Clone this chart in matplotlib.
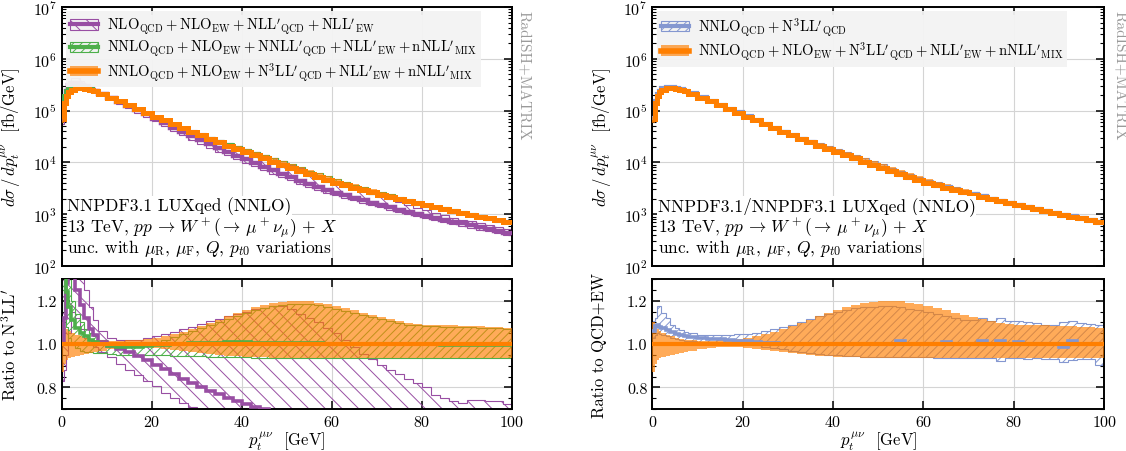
import numpy as np
import matplotlib.pyplot as plt
from matplotlib.patches import Patch
from matplotlib.lines import Line2D
from matplotlib.ticker import MultipleLocator, LogLocator, NullFormatter, FixedLocator

plt.rcParams.update({
    'font.family': 'serif',
    'font.serif': ['cmr10'],
    'mathtext.fontset': 'cm',
    'axes.formatter.use_mathtext': True,
    'font.size': 12,
    'hatch.linewidth': 0.7,
})

# bin edges in p_t [GeV]
edges = np.concatenate([[0, 0.5, 1, 1.5, 2, 3, 4, 5, 6, 7], np.arange(8, 101, 2)])

# QCD+EW N3LL' central spectrum [fb/GeV]
spec_n3ll = [67600, 141000, 190500, 224000, 251000, 269000, 269000, 263000, 251000, 234000,
             209000, 178000, 150000, 126000, 107000, 91200, 76700, 64600, 54300, 45700,
             38900, 33100, 28500, 24500, 21100, 18200, 15800, 13800, 11900, 10200,
             8900, 7760, 6760, 5890, 5190, 4570, 4070, 3630, 3270, 2950,
             2660, 2400, 2190, 1970, 1780, 1620, 1480, 1360, 1260, 1160,
             1070, 977, 902, 832, 767, 708]

# ratios to the N3LL' (QCD+EW) central value
n3ll_hi = [1.10, 1.08, 1.07, 1.06, 1.05, 1.04, 1.035, 1.03, 1.025, 1.02,
           1.018, 1.015, 1.015, 1.017, 1.02, 1.023, 1.028, 1.035, 1.045, 1.057,
           1.07, 1.084, 1.098, 1.113, 1.128, 1.143, 1.157, 1.17, 1.182, 1.19,
           1.196, 1.2, 1.2, 1.197, 1.19, 1.183, 1.175, 1.165, 1.155, 1.145,
           1.134, 1.124, 1.114, 1.105, 1.098, 1.093, 1.09, 1.088, 1.087, 1.086,
           1.085, 1.083, 1.082, 1.08, 1.078, 1.076]
n3ll_lo = [0.87, 0.91, 0.925, 0.935, 0.94, 0.945, 0.95, 0.955, 0.96, 0.965,
           0.97, 0.975, 0.98, 0.985, 0.987, 0.984, 0.98, 0.976, 0.971, 0.966,
           0.961, 0.957, 0.953, 0.949, 0.946, 0.943, 0.941, 0.939, 0.938, 0.937,
           0.936, 0.935, 0.935, 0.934, 0.934, 0.934, 0.934, 0.934, 0.934, 0.934,
           0.934, 0.934, 0.934, 0.934, 0.934, 0.934, 0.935, 0.935, 0.935, 0.935,
           0.935, 0.935, 0.935, 0.935, 0.935, 0.935]

nnll_c = [1.45, 1.35, 1.24, 1.17, 1.11, 1.075, 1.05, 1.035, 1.02, 1.01,
          1.0, 0.99, 0.985, 0.985, 0.987, 0.99, 0.994, 0.997, 1.0, 1.002,
          1.004, 1.005, 1.006, 1.006, 1.007, 1.007, 1.007, 1.006, 1.006, 1.005,
          1.005, 1.004, 1.004, 1.003, 1.003, 1.002, 1.002, 1.001, 1.001, 1.0,
          1.0, 1.0, 0.999, 0.999, 0.999, 0.998, 0.998, 0.998, 0.997, 0.997,
          0.997, 0.996, 0.996, 0.996, 0.995, 0.995]
nnll_lo = [1.25, 1.15, 1.08, 1.03, 0.995, 0.98, 0.97, 0.965, 0.962, 0.96,
           0.957, 0.953, 0.95, 0.949, 0.948, 0.948, 0.948, 0.947, 0.946, 0.945,
           0.944, 0.943, 0.942, 0.941, 0.94, 0.939, 0.938, 0.937, 0.937, 0.936,
           0.936, 0.936, 0.936, 0.936, 0.936, 0.936, 0.936, 0.936, 0.936, 0.936,
           0.936, 0.936, 0.936, 0.936, 0.936, 0.936, 0.936, 0.936, 0.936, 0.936,
           0.936, 0.936, 0.936, 0.936, 0.936, 0.936]
nnll_hi = [1.6, 1.5, 1.4, 1.3, 1.2, 1.14, 1.1, 1.07, 1.05, 1.035,
           1.02, 1.005, 0.998, 0.995, 0.997, 1.002, 1.01, 1.02, 1.032, 1.045,
           1.058, 1.072, 1.087, 1.101, 1.115, 1.13, 1.144, 1.157, 1.168, 1.176,
           1.182, 1.185, 1.185, 1.183, 1.178, 1.171, 1.163, 1.154, 1.144, 1.134,
           1.124, 1.114, 1.105, 1.097, 1.09, 1.086, 1.083, 1.081, 1.08, 1.079,
           1.078, 1.077, 1.076, 1.075, 1.073, 1.071]

nll_c = [1.0, 1.12, 1.28, 1.4, 1.38, 1.25, 1.18, 1.12, 1.07, 1.04,
         1.01, 0.99, 0.978, 0.963, 0.945, 0.925, 0.905, 0.885, 0.862, 0.84,
         0.82, 0.80, 0.783, 0.767, 0.75, 0.735, 0.722, 0.71, 0.698, 0.688,
         0.678, 0.668, 0.66, 0.652, 0.645, 0.64, 0.636, 0.633, 0.63, 0.628,
         0.626, 0.625, 0.624, 0.623, 0.622, 0.622, 0.621, 0.621, 0.62, 0.62,
         0.62, 0.62, 0.62, 0.62, 0.62, 0.62]
nll_hi = [1.35, 1.45, 1.6, 1.7, 1.7, 1.6, 1.4, 1.25, 1.17, 1.11,
          1.06, 1.03, 1.018, 1.018, 1.02, 1.027, 1.035, 1.045, 1.055, 1.067,
          1.08, 1.093, 1.105, 1.117, 1.128, 1.14, 1.15, 1.16, 1.168, 1.176,
          1.175, 1.16, 1.14, 1.12, 1.1, 1.075, 1.05, 1.02, 0.985, 0.955,
          0.93, 0.905, 0.88, 0.86, 0.84, 0.82, 0.80, 0.765, 0.75, 0.735,
          0.728, 0.742, 0.74, 0.735, 0.738, 0.725]
nll_lo = [0.83, 0.88, 0.95, 1.05, 1.15, 1.12, 1.07, 1.03, 1.0, 0.985,
          0.965, 0.94, 0.91, 0.88, 0.855, 0.83, 0.805, 0.775, 0.75, 0.73,
          0.71, 0.69, 0.675, 0.66, 0.645, 0.632, 0.62, 0.61, 0.60, 0.592,
          0.585, 0.58, 0.576, 0.573, 0.57, 0.568, 0.566, 0.565, 0.564, 0.563,
          0.562, 0.562, 0.561, 0.561, 0.56, 0.56, 0.56, 0.56, 0.56, 0.56,
          0.56, 0.56, 0.56, 0.56, 0.56, 0.56]

# QCD-only N3LL' relative to QCD+EW
qcd_c = [1.06, 1.085, 1.09, 1.08, 1.075, 1.065, 1.055, 1.048, 1.042, 1.037,
         1.032, 1.027, 1.024, 1.021, 1.018, 1.015, 1.012, 1.009, 1.006, 1.004,
         1.002, 1.001, 1.0, 1.0, 0.999, 1.0, 1.001, 1.0, 1.0, 0.999,
         1.0, 1.001, 1.0, 1.012, 1.0, 1.0, 1.001, 1.0, 1.01, 1.0,
         1.0, 1.001, 1.012, 1.0, 1.014, 1.0, 1.011, 1.0, 0.999, 1.0,
         1.001, 0.988, 1.013, 1.0, 1.0, 1.001]
qcd_hi = [1.107, 1.12, 1.176, 1.176, 1.145, 1.12, 1.09, 1.075, 1.065, 1.057,
          1.05, 1.042, 1.04, 1.04, 1.042, 1.044, 1.048, 1.053, 1.06, 1.068,
          1.078, 1.09, 1.102, 1.115, 1.127, 1.14, 1.15, 1.158, 1.165, 1.17,
          1.173, 1.175, 1.174, 1.17, 1.163, 1.155, 1.146, 1.137, 1.127, 1.12,
          1.112, 1.11, 1.118, 1.105, 1.12, 1.105, 1.108, 1.1, 1.095, 1.09,
          1.088, 1.1, 1.105, 1.098, 1.092, 1.09]
qcd_lo = [1.03, 1.04, 1.05, 1.045, 1.04, 1.035, 1.028, 1.022, 1.018, 1.015,
          1.013, 1.011, 1.01, 1.008, 1.006, 1.004, 1.0, 0.995, 0.988, 0.981,
          0.975, 0.969, 0.964, 0.959, 0.955, 0.951, 0.948, 0.946, 0.944, 0.942,
          0.941, 0.94, 0.939, 0.939, 0.938, 0.938, 0.938, 0.937, 0.937, 0.937,
          0.936, 0.936, 0.935, 0.935, 0.922, 0.935, 0.934, 0.93, 0.934, 0.933,
          0.933, 0.918, 0.925, 0.932, 0.931, 0.905]

purple = '#984ea3'
green = '#4daf4a'
orange = '#ff7f00'
blue = '#8497d0'

spec = np.array(spec_n3ll)


def hatched(ax, lo, hi, color, hatch, z=2):
    ax.stairs(hi, edges, baseline=lo, fill=True, facecolor='none',
              edgecolor=color, hatch=hatch, lw=0.8, zorder=z)


def filled(ax, lo, hi, color, z=3):
    ax.stairs(hi, edges, baseline=lo, fill=True, facecolor=color,
              edgecolor='none', alpha=0.65, zorder=z)


def line(ax, vals, color, lw, z=4):
    ax.stairs(vals, edges, baseline=None, color=color, lw=lw, zorder=z)


def style(ax, ratio):
    ax.set_xlim(0, 100)
    ax.xaxis.set_major_locator(MultipleLocator(20))
    ax.tick_params(which='both', direction='in', top=True, right=True, labelsize=11.5)
    ax.tick_params(which='major', length=6, width=1.1)
    ax.tick_params(which='minor', length=3, width=0.8)
    for s in ax.spines.values():
        s.set_linewidth(1.4)
    ax.grid(True, which='major', color='#d4d4d4', lw=0.8, zorder=0)
    if ratio:
        ax.set_ylim(0.7, 1.3)
        ax.yaxis.set_major_locator(FixedLocator([0.8, 1.0, 1.2]))
        ax.yaxis.set_minor_locator(MultipleLocator(0.05))
        ax.set_yticklabels(['0.8', '1.0', '1.2'])
        ax.set_xlabel(r'$p_t^{\mu\nu}$  [GeV]', labelpad=0)
    else:
        ax.set_yscale('log')
        ax.set_ylim(1e2, 1e7)
        ax.yaxis.set_major_locator(LogLocator(base=10, numticks=10))
        ax.yaxis.set_minor_locator(LogLocator(base=10, subs=np.arange(2, 10), numticks=50))
        ax.yaxis.set_minor_formatter(NullFormatter())
        ax.tick_params(labelbottom=False)
        ax.set_ylabel(r'$d\sigma\,/\,dp_t^{\mu\nu}$  [fb/GeV]')
        ax.yaxis.set_label_coords(-0.088, 0.5)


fig = plt.figure(figsize=(11.26, 4.52), dpi=100)
axL = fig.add_axes([0.0548, 0.4093, 0.3996, 0.5730])
axLr = fig.add_axes([0.0548, 0.0929, 0.3996, 0.2876])
axR = fig.add_axes([0.5793, 0.4093, 0.4014, 0.5730])
axRr = fig.add_axes([0.5793, 0.0929, 0.4014, 0.2876])
for a in (axL, axR):
    style(a, False)
for a in (axLr, axRr):
    style(a, True)

# ---- left: resummation orders
hatched(axL, spec * nll_lo, spec * nll_hi, purple, '\\\\')
hatched(axL, spec * nnll_lo, spec * nnll_hi, green, '////')
filled(axL, spec * n3ll_lo, spec * n3ll_hi, orange)
line(axL, spec * nll_c, purple, 3.2)
line(axL, spec * nnll_c, green, 2.8)
line(axL, spec, orange, 3.6, z=5)

hatched(axLr, nll_lo, nll_hi, purple, '\\\\')
hatched(axLr, nnll_lo, nnll_hi, green, '////')
filled(axLr, n3ll_lo, n3ll_hi, orange)
line(axLr, nll_c, purple, 2.6)
line(axLr, nnll_c, green, 2.6)
line(axLr, spec / spec, orange, 3, z=5)
axLr.set_ylabel(r"Ratio to N$^3$LL$'$")
axLr.yaxis.set_label_coords(-0.095, 0.5)

# ---- right: QCD vs QCD+EW
hatched(axR, spec * qcd_lo, spec * qcd_hi, blue, '////')
filled(axR, spec * n3ll_lo, spec * n3ll_hi, orange)
line(axR, spec * qcd_c, blue, 3)
line(axR, spec, orange, 3.6, z=5)

hatched(axRr, qcd_lo, qcd_hi, blue, '////')
filled(axRr, n3ll_lo, n3ll_hi, orange)
line(axRr, qcd_c, blue, 2.6)
line(axRr, spec / spec, orange, 3, z=5)
axRr.set_ylabel('Ratio to QCD+EW')
axRr.yaxis.set_label_coords(-0.1, 0.5)


def h_hatch(color, hatch):
    return (Patch(facecolor='none', edgecolor=color, hatch=hatch, lw=0.8),
            Line2D([], [], color=color, lw=3))


h_orange = (Patch(facecolor=orange, alpha=0.65, edgecolor='none'),
            Line2D([], [], color=orange, lw=4))

lab_nll = r"$\mathrm{NLO}_{\mathrm{QCD}}+\mathrm{NLO}_{\mathrm{EW}}+\mathrm{NLL}'_{\mathrm{QCD}}+\mathrm{NLL}'_{\mathrm{EW}}$"
lab_nnll = r"$\mathrm{NNLO}_{\mathrm{QCD}}+\mathrm{NLO}_{\mathrm{EW}}+\mathrm{NNLL}'_{\mathrm{QCD}}+\mathrm{NLL}'_{\mathrm{EW}}+\mathrm{nNLL}'_{\mathrm{MIX}}$"
lab_n3ll = r"$\mathrm{NNLO}_{\mathrm{QCD}}+\mathrm{NLO}_{\mathrm{EW}}+\mathrm{N}^3\mathrm{LL}'_{\mathrm{QCD}}+\mathrm{NLL}'_{\mathrm{EW}}+\mathrm{nNLL}'_{\mathrm{MIX}}$"
lab_qcd = r"$\mathrm{NNLO}_{\mathrm{QCD}}+\mathrm{N}^3\mathrm{LL}'_{\mathrm{QCD}}$"

leg_kw = dict(loc='upper left', borderaxespad=0.3, borderpad=0.3, handlelength=1.9,
              handletextpad=0.6, labelspacing=0.15, fancybox=False, framealpha=0.95,
              facecolor='#f3f3f3', edgecolor='none', fontsize=10.5)
lg = axL.legend([h_hatch(purple, '\\\\'), h_hatch(green, '////'), h_orange],
                [lab_nll, lab_nnll, lab_n3ll], **leg_kw)
lg.set_zorder(6)
lg = axR.legend([h_hatch(blue, '////'), h_orange], [lab_qcd, lab_n3ll], **leg_kw)
lg.set_zorder(6)

box = dict(facecolor='white', edgecolor='none', pad=0.2)
for ax, pdf in ((axL, 'NNPDF3.1 LUXqed (NNLO)'), (axR, 'NNPDF3.1/NNPDF3.1 LUXqed (NNLO)')):
    ax.text(0.012, 0.232, pdf, transform=ax.transAxes, va='center', bbox=box,
            zorder=6, fontsize=12.5)
    ax.text(0.012, 0.152, r'13 TeV, $pp\,\rightarrow\,W^+(\rightarrow\,\mu^+\nu_\mu)\,+\,X$',
            transform=ax.transAxes, va='center', bbox=box, zorder=6, fontsize=12.5)
    ax.text(0.012, 0.072, r'unc. with $\mu_{\rm R}$, $\mu_{\rm F}$, $Q$, $p_{t0}$ variations',
            transform=ax.transAxes, va='center', bbox=box, zorder=6, fontsize=12.5)

fig.text(0.4645, 0.975, 'RadISH+MATRIX', rotation=-90, ha='center', va='top',
         color='#9a9a9a', fontsize=11)
fig.text(0.9935, 0.975, 'RadISH+MATRIX', rotation=-90, ha='center', va='top',
         color='#9a9a9a', fontsize=11)

fig.savefig('out.png', dpi=100)
